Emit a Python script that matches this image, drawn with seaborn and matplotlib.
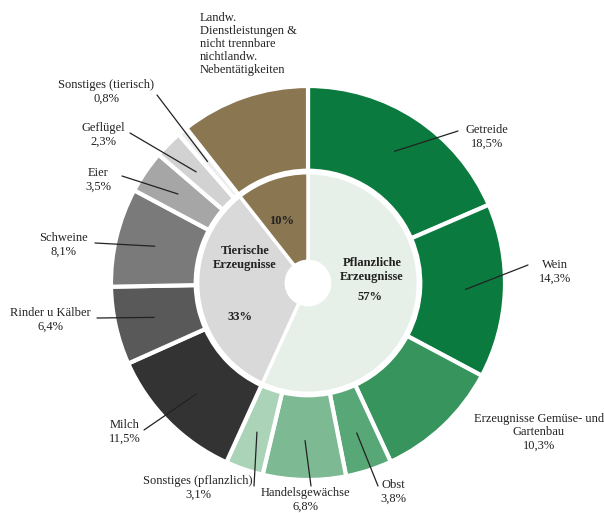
import numpy as np
import matplotlib
matplotlib.use("Agg")
import matplotlib.pyplot as plt
import seaborn as sns

# --- data ---
outer_labels = ["Getreide", "Wein", "Erzeugnisse Gemüse- und\nGartenbau", "Obst",
                "Handelsgewächse", "Sonstiges (pflanzlich)", "Milch", "Rinder u Kälber",
                "Schweine", "Eier", "Geflügel", "Sonstiges (tierisch)",
                "Landw.\nDienstleistungen &\nnicht trennbare\nnichtlandw.\nNebentätigkeiten"]
outer_values = [18.5, 14.3, 10.3, 3.8, 6.8, 3.1, 11.5, 6.4, 8.1, 3.5, 2.3, 0.8, 10.6]
outer_pct = ["18,5%", "14,3%", "10,3%", "3,8%", "6,8%", "3,1%", "11,5%", "6,4%",
             "8,1%", "3,5%", "2,3%", "0,8%", ""]

inner_labels = ["Pflanzliche\nErzeugnisse", "Tierische\nErzeugnisse", ""]
inner_values = [56.8, 32.6, 10.6]
inner_pct = ["57%", "33%", "10%"]

outer_colors = ["#0b7a3e", "#0b7a3e", "#37945d", "#58a777", "#7db993", "#abd3b7",
                "#333333", "#595959", "#7a7a7a", "#a6a6a6", "#d2d2d2", "#ececec", "#8a7650"]
inner_colors = ["#e6efe8", "#d9d9d9", "#8a7650"]

# --- layout (pixel positions of the labels in the 604x513 canvas) ---
W, H = 604, 513
CX, CY, R = 308, 283, 197

def px(x, y):
    return (x - CX) / R, (CY - y) / R

label_pos = [(487, 137), (555, 272), (539, 432), (393, 492), (305, 500), (198, 488),
             (125, 432), (50, 320), (63, 245), (98, 180), (103, 135), (106, 92), None]
line_end = [(458, 131), (528, 265), None, (378, 486), (311, 486), (254, 486),
            (144, 430), (97, 318), (95, 243), (122, 176), (130, 133), (157, 95), None]
inner_name_pos = [(372, 270), (245, 258), None]
inner_pct_pos = [(370, 297), (240, 317), (282, 221)]

sns.set_theme(style="white")
plt.rcParams["font.family"] = ["Liberation Serif", "DejaVu Serif"]

fig = plt.figure(figsize=(W / 100, H / 100), dpi=100)
ax = fig.add_axes([0, 0, 1, 1])

wedges, _ = ax.pie(outer_values, colors=outer_colors, radius=1.0, startangle=90,
                   counterclock=False,
                   wedgeprops=dict(width=0.43, edgecolor="white", linewidth=3))
ax.pie(inner_values, colors=inner_colors, radius=0.56, startangle=90,
       counterclock=False,
       wedgeprops=dict(width=0.45, edgecolor="white", linewidth=2.5))

# pie() resets the limits, so set them afterwards
ax.set_xlim(-CX / R, (W - CX) / R)
ax.set_ylim(-(H - CY) / R, CY / R)
ax.set_aspect("equal")
ax.axis("off")

# outer labels with leader lines
for i, w in enumerate(wedges):
    name = outer_labels[i]
    txt = name if not outer_pct[i] else f"{name}\n{outer_pct[i]}"
    if label_pos[i] is None:
        ax.text(*px(200, 12), txt, ha="left", va="top", fontsize=9,
                color="#222222", linespacing=1.1)
        continue
    ax.text(*px(*label_pos[i]), txt, ha="center", va="center", fontsize=9,
            color="#222222", linespacing=1.15)
    if line_end[i] is not None:
        ang = np.deg2rad((w.theta1 + w.theta2) / 2)
        r = 0.8
        ax.plot([r * np.cos(ang), px(*line_end[i])[0]],
                [r * np.sin(ang), px(*line_end[i])[1]],
                color="#222222", lw=0.9)

# inner labels
for i in range(len(inner_values)):
    if inner_name_pos[i] is not None:
        ax.text(*px(*inner_name_pos[i]), inner_labels[i], ha="center", va="center",
                fontsize=9, fontweight="bold", color="#222222", linespacing=1.2)
    ax.text(*px(*inner_pct_pos[i]), inner_pct[i], ha="center", va="center",
            fontsize=9, fontweight="bold", color="#222222")

fig.savefig("out.png", dpi=100, facecolor="white")
